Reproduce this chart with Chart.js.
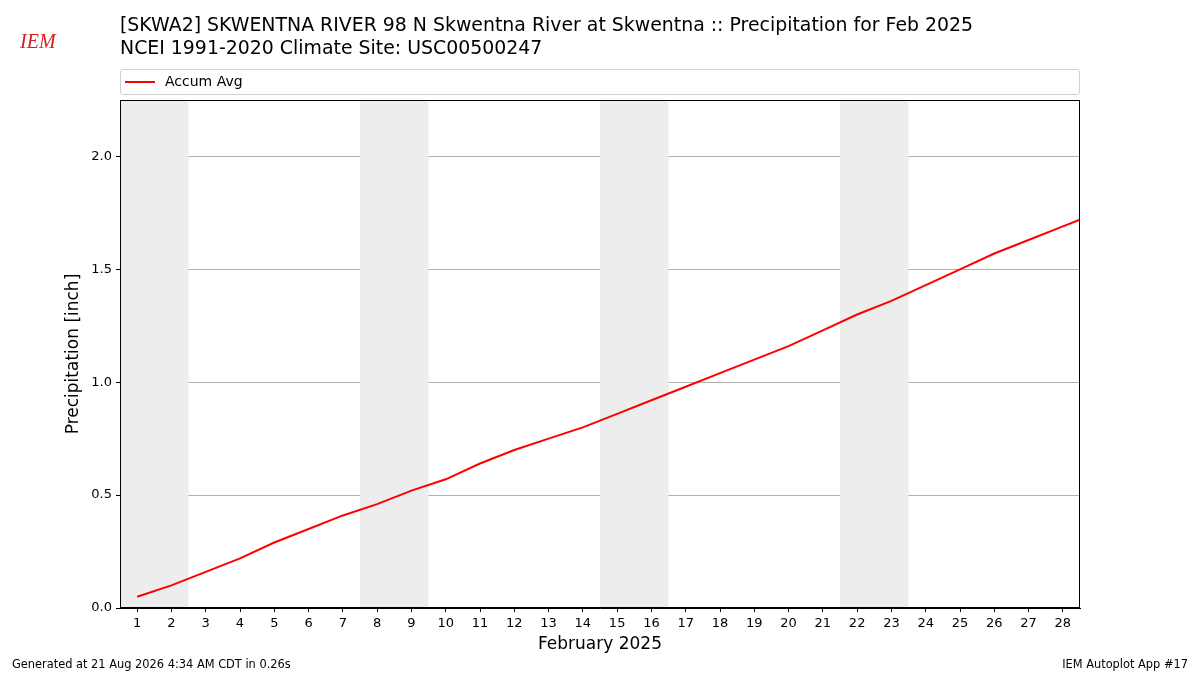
<!DOCTYPE html>
<html>
<head>
<meta charset="utf-8">
<script src="https://cdn.jsdelivr.net/npm/chart.js@4"></script>
<style>
  body { margin: 0; background: #fff; font-family: "DejaVu Sans", sans-serif; }
  #wrap { position: relative; width: 1200px; height: 675px; }
  #chart { position: absolute; left: 0; top: 0; }
  .title { position: absolute; left: 120px; font-size: 18.9px; color: #000; white-space: nowrap; }
  #legend { position: absolute; left: 120px; top: 69px; width: 958px; height: 24px;
            border: 1px solid #d0d0d0; border-radius: 3px; font-size: 14px; }
  #legend .swatch { position: absolute; left: 4px; top: 11px; width: 30px; height: 2px; background: #ff0000; }
  #legend .lbl { position: absolute; left: 44px; top: 3px; }
  .foot { position: absolute; top: 657px; font-size: 11.4px; }
  #logo { position: absolute; left: 20px; top: 30px; font-family: "Liberation Serif", serif;
          font-style: italic; font-size: 20px; color: #d42020; }
</style>
</head>
<body>
<div id="wrap">
  <canvas id="chart" width="1200" height="675"></canvas>
  <div id="logo">IEM</div>
  <div class="title" style="top:13px">[SKWA2] SKWENTNA RIVER 98 N Skwentna River at Skwentna :: Precipitation for Feb 2025</div>
  <div class="title" style="top:36px">NCEI 1991-2020 Climate Site: USC00500247</div>
  <div id="legend"><div class="swatch"></div><div class="lbl">Accum Avg</div></div>
  <div class="foot" style="left:12px">Generated at 21 Aug 2026 4:34 AM CDT in 0.26s</div>
  <div class="foot" style="right:12px">IEM Autoplot App #17</div>
</div>
<script>
// day of month (Feb 2025, plus Mar 1 which runs off the edge)
const days = [1, 2, 3, 4, 5, 6, 7, 8, 9, 10, 11, 12, 13, 14, 15, 16, 17, 18, 19, 20,
              21, 22, 23, 24, 25, 26, 27, 28, 29];
// accumulated average precipitation [inch]
const accumAvg = [0.05, 0.10, 0.16, 0.22, 0.29, 0.35, 0.41, 0.46, 0.52, 0.57,
                  0.64, 0.70, 0.75, 0.80, 0.86, 0.92, 0.98, 1.04, 1.10, 1.16,
                  1.23, 1.30, 1.36, 1.43, 1.50, 1.57, 1.63, 1.69, 1.75];
// weekend days get shaded
const weekendDays = [1, 2, 8, 9, 15, 16, 22, 23];
const xTicks = [1, 2, 3, 4, 5, 6, 7, 8, 9, 10, 11, 12, 13, 14, 15, 16, 17, 18, 19, 20,
                21, 22, 23, 24, 25, 26, 27, 28];
const yTicks = [0, 0.5, 1.0, 1.5, 2.0];

const weekendShade = {
    id: 'weekendShade',
    beforeDatasetsDraw(chart) {
        const { ctx, chartArea, scales: { x } } = chart;
        // merge consecutive days so there is no seam between them
        let spans = [];
        weekendDays.forEach(d => {
            let last = spans[spans.length - 1];
            if (last && last[1] === d - 1) last[1] = d;
            else spans.push([d, d]);
        });
        ctx.save();
        ctx.fillStyle = '#ededed';
        spans.forEach(s => {
            const x0 = Math.max(chartArea.left, x.getPixelForValue(s[0] - 0.5));
            const x1 = Math.min(chartArea.right, x.getPixelForValue(s[1] + 0.5));
            ctx.fillRect(x0, chartArea.top, x1 - x0, chartArea.bottom - chartArea.top);
        });
        ctx.restore();
    }
};

const frame = {
    id: 'frame',
    afterDraw(chart) {
        const { ctx, chartArea } = chart;
        ctx.save();
        ctx.strokeStyle = '#000';
        ctx.lineWidth = 1;
        ctx.strokeRect(chartArea.left + 0.5, chartArea.top + 0.5,
                       chartArea.right - chartArea.left - 1, chartArea.bottom - chartArea.top - 1);
        ctx.restore();
    }
};

new Chart(document.getElementById('chart'), {
    type: 'line',
    data: {
        datasets: [{
            label: 'Accum Avg',
            data: days.map((d, i) => ({ x: d, y: accumAvg[i] })),
            borderColor: '#ff0000',
            borderWidth: 2,
            pointRadius: 0,
            tension: 0
        }]
    },
    options: {
        responsive: false,
        animation: false,
        layout: { padding: { top: 100, right: 120, bottom: 0, left: 0 } },
        plugins: {
            legend: { display: false },
            title: { display: false },
            tooltip: { enabled: false }
        },
        scales: {
            x: {
                type: 'linear',
                min: 0.5,
                max: 28.5,
                afterFit(scale) { scale.height = 67; },
                afterBuildTicks(scale) { scale.ticks = xTicks.map(v => ({ value: v })); },
                grid: { drawOnChartArea: false, tickLength: 4, tickColor: '#000' },
                border: { color: '#000' },
                ticks: { color: '#000', font: { family: 'DejaVu Sans', size: 13 }, padding: 4,
                         maxRotation: 0, autoSkip: false },
                title: { display: true, text: 'February 2025', color: '#000',
                         font: { family: 'DejaVu Sans', size: 17 }, padding: { top: 0, bottom: 20 } }
            },
            y: {
                min: 0,
                max: 2.25,
                afterFit(scale) { scale.width = 120; },
                afterBuildTicks(scale) { scale.ticks = yTicks.map(v => ({ value: v })); },
                grid: { color: '#b0b0b0', tickLength: 4, tickColor: '#000' },
                border: { color: '#000' },
                ticks: { color: '#000', font: { family: 'DejaVu Sans', size: 13 }, padding: 4,
                         callback: v => v.toFixed(1) },
                title: { display: true, text: 'Precipitation [inch]', color: '#000',
                         font: { family: 'DejaVu Sans', size: 17 }, padding: { top: 63, bottom: 0 } }
            }
        }
    },
    plugins: [weekendShade, frame]
});
</script>
</body>
</html>
